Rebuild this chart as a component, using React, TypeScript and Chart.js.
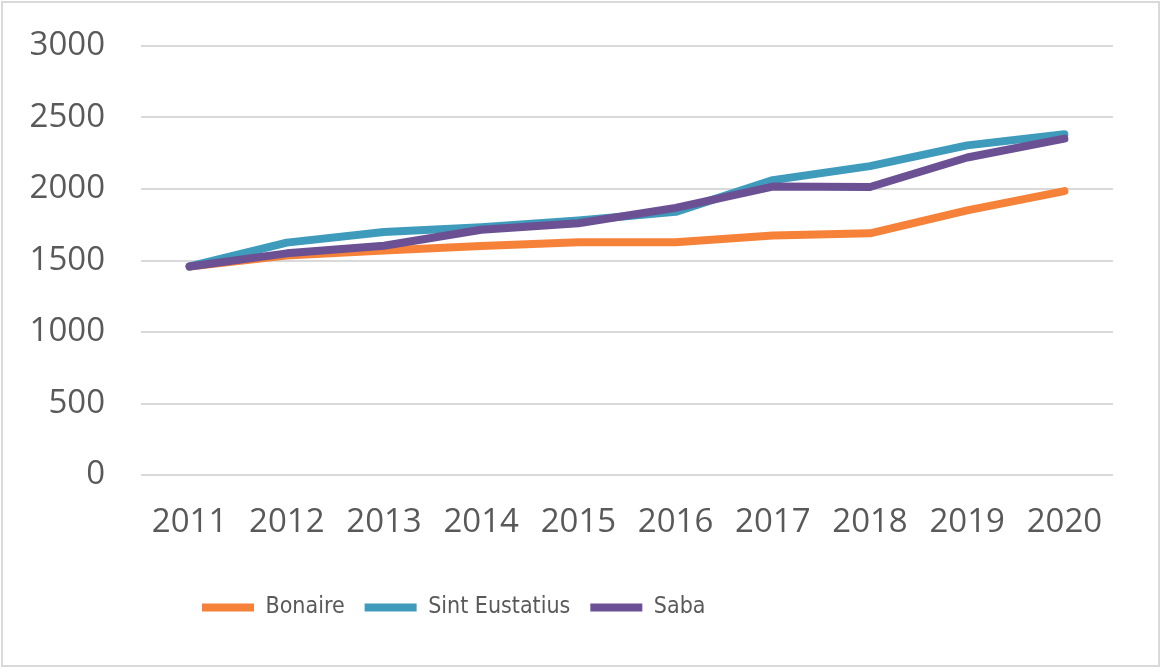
import React, { useEffect, useRef } from "react";
import { Chart, registerables } from "chart.js";

Chart.register(...registerables);

const years = ["2011", "2012", "2013", "2014", "2015", "2016", "2017", "2018", "2019", "2020"];
const bonaire = [1458, 1535, 1570, 1602, 1628, 1628, 1675, 1690, 1850, 1985];
const sintEustatius = [1458, 1625, 1700, 1733, 1780, 1840, 2062, 2160, 2305, 2383];
const saba = [1458, 1550, 1603, 1715, 1760, 1868, 2017, 2014, 2220, 2352];
const seriesNames = ["Bonaire", "Sint Eustatius", "Saba"];
const seriesColors = ["#F6823A", "#3E9BBB", "#6B5193"];

const legendShift = {
  id: "legendShift",
  afterLayout(chart: any) {
    if (chart.legend) chart.legend.left = 182;
  },
};

export default function App() {
  const ref = useRef<HTMLCanvasElement | null>(null);

  useEffect(() => {
    document.body.style.margin = "0";
    const canvas = ref.current;
    if (!canvas) return;
    const values = [bonaire, sintEustatius, saba];
    const chart = new Chart(canvas, {
      type: "line",
      data: {
        labels: years,
        datasets: values.map((v, i) => ({
          label: seriesNames[i],
          data: v,
          borderColor: seriesColors[i],
          backgroundColor: seriesColors[i],
          borderWidth: 8,
          borderCapStyle: "round" as const,
          borderJoinStyle: "round" as const,
          pointRadius: 0,
          tension: 0,
          fill: false,
          order: 3 - i,
        })),
      },
      plugins: [legendShift],
      options: {
        responsive: false,
        animation: false,
        devicePixelRatio: 1,
        layout: { padding: { left: 0, right: 48, top: 46, bottom: 39 } },
        plugins: {
          tooltip: { enabled: false },
          legend: {
            position: "bottom",
            align: "start",
            labels: {
              usePointStyle: true,
              pointStyle: "line",
              pointStyleWidth: 52,
              boxHeight: 8,
              padding: 20,
              color: "#595959",
              font: { family: "'Liberation Sans Narrow', 'DejaVu Sans Condensed', sans-serif", size: 23 },
              sort: (a: any, b: any) => a.datasetIndex - b.datasetIndex,
            },
          },
        },
        scales: {
          x: {
            offset: true,
            grid: { display: false, drawTicks: false },
            border: { display: false },
            ticks: {
              color: "#595959",
              padding: 28,
              maxRotation: 0,
              font: { family: "'Open Sans', sans-serif", size: 33 },
            },
            afterFit: (s: any) => {
              s.height = 101;
              s.paddingLeft = 0;
              s.paddingRight = 0;
            },
          },
          y: {
            min: 0,
            max: 3000,
            grid: { color: "#D9D9D9", lineWidth: 2, drawTicks: false },
            border: { display: false },
            ticks: {
              stepSize: 500,
              color: "#595959",
              padding: 36,
              font: { family: "'Open Sans', sans-serif", size: 33 },
              callback: (v: any) => String(v),
            },
            afterFit: (s: any) => {
              s.width = 141;
              s.paddingTop = 0;
              s.paddingBottom = 0;
            },
          },
        },
      },
    });
    return () => chart.destroy();
  }, []);

  return (
    <div style={{ position: "relative", width: 1161, height: 668 }}>
      <canvas ref={ref} width={1161} height={668} style={{ display: "block" }} />
      <div
        style={{
          position: "absolute",
          left: 1,
          top: 1,
          width: 1159,
          height: 666,
          boxSizing: "border-box",
          border: "2px solid #D9D9D9",
          pointerEvents: "none",
        }}
      />
    </div>
  );
}
